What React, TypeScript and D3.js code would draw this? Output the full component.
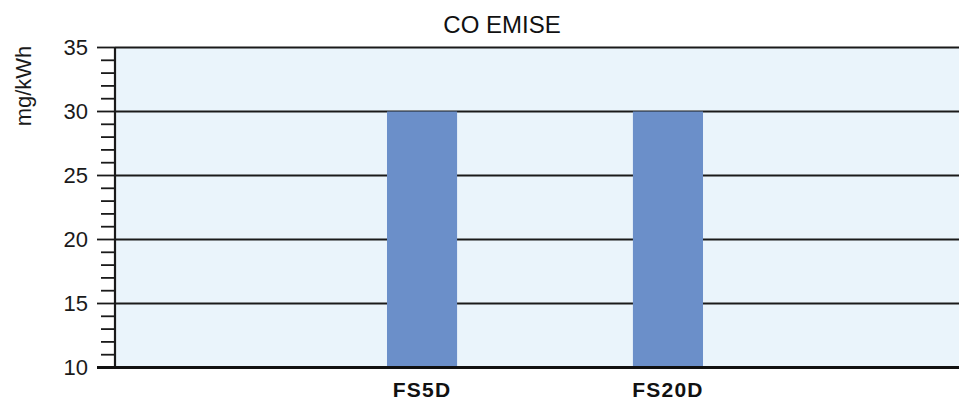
import React from 'react';
import * as d3 from 'd3';

const categories = ['FS5D', 'FS20D'];
const values = [30, 30];
const yTicks = [10, 15, 20, 25, 30, 35];
const yMinorTicks = d3.range(10, 36, 1).filter(v => v % 5 !== 0);
const title = 'CO EMISE';
const yLabel = 'mg/kWh';

const W = 959;
const H = 406;
const plot = { left: 115, right: 975, top: 47.5, bottom: 367.5 };
const font = '"Liberation Sans", Arial, sans-serif';

export default function App() {
    const x = d3.scaleBand()
        .domain(categories)
        .range([plot.left, plot.right])
        .paddingInner(0.715)
        .paddingOuter(1.106);

    const y = d3.scaleLinear()
        .domain([10, 35])
        .range([plot.bottom, plot.top]);

    return (
        <svg width={W} height={H} style={{ position: 'absolute', left: 0, top: 0, background: '#fff' }}>
            {/* plot background */}
            <rect x={plot.left} y={plot.top} width={plot.right - plot.left} height={plot.bottom - plot.top} fill="#EAF4FB" />

            {/* grid lines */}
            {yTicks.filter(t => t !== 10).map(t => (
                <line key={t} x1={plot.left} x2={plot.right} y1={y(t)} y2={y(t)} stroke="#1a1a1a" strokeWidth={1.8} />
            ))}

            {/* bars */}
            {categories.map((c, i) => (
                <rect key={c} x={x(c)} y={y(values[i])} width={x.bandwidth()} height={y(10) - y(values[i])} fill="#6B8FC9" />
            ))}

            {/* y axis */}
            <line x1={plot.left} x2={plot.left} y1={plot.top} y2={plot.bottom} stroke="#1a1a1a" strokeWidth={2.2} />
            {yMinorTicks.map(t => (
                <line key={t} x1={101} x2={plot.left} y1={y(t)} y2={y(t)} stroke="#1a1a1a" strokeWidth={1.8} />
            ))}
            {yTicks.map(t => (
                <g key={t}>
                    <line x1={97} x2={plot.left} y1={y(t)} y2={y(t)} stroke="#1a1a1a" strokeWidth={1.8} />
                    <text x={88} y={y(t)} dy="0.35em" textAnchor="end" fontFamily={font} fontSize={22} fill="#1a1a1a">{t}</text>
                </g>
            ))}

            {/* x axis */}
            <line x1={97} x2={plot.right} y1={y(10)} y2={y(10)} stroke="#111" strokeWidth={3.2} />
            {categories.map(c => (
                <text key={c} x={x(c)! + x.bandwidth() / 2} y={397} textAnchor="middle" fontFamily={font} fontWeight="bold" fontSize={21} letterSpacing={1.2} fill="#111">{c}</text>
            ))}

            {/* title */}
            <text x={502} y={33} textAnchor="middle" fontFamily={font} fontSize={24} fill="#111">{title}</text>

            {/* y label */}
            <text transform="translate(31,86) rotate(-90)" textAnchor="middle" fontFamily={font} fontSize={22} fill="#1a1a1a">{yLabel}</text>
        </svg>
    );
}
